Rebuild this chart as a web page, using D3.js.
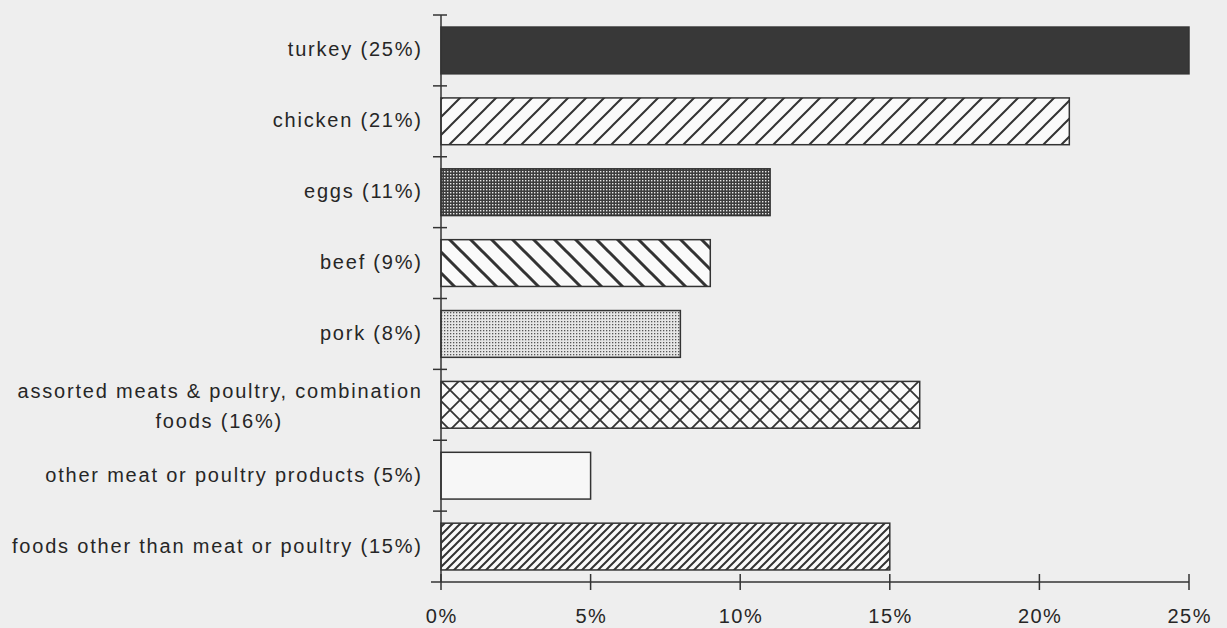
<!DOCTYPE html>
<html><head><meta charset="utf-8">
<script src="https://cdn.jsdelivr.net/npm/d3@7/dist/d3.min.js"></script>
<style>
html,body{margin:0;padding:0;background:#eeeeee;}
svg{display:block;}
text{font-family:"Liberation Sans",Arial,Helvetica,sans-serif;fill:#262626;}
</style></head><body>
<svg id="chart" width="1227" height="628"></svg>
<script>
const categories = ["turkey (25%)", "chicken (21%)", "eggs (11%)", "beef (9%)", "pork (8%)",
  "assorted meats & poultry, combination|foods (16%)", "other meat or poultry products (5%)",
  "foods other than meat or poultry (15%)"];
const values = [25, 21, 11, 9, 8, 16, 5, 15];
const fills = ["solid", "diagUp", "denseDots", "diagDown", "lightDots", "cross", "empty", "denseDiag"];
const xTicks = [0, 5, 10, 15, 20, 25];
const xTickLabels = ["0%", "5%", "10%", "15%", "20%", "25%"];

const svg = d3.select("#chart");
const x0 = 441, x1 = 1189, yTop = 15, yBot = 582;
const x = d3.scaleLinear().domain([0, 25]).range([x0, x1]);
const y = d3.scaleBand().domain(d3.range(categories.length)).range([yTop, yBot]).paddingInner(0.34).paddingOuter(0.17);

const defs = svg.append("defs");
const ink = "#333";
let p = defs.append("pattern").attr("id","diagUp").attr("patternUnits","userSpaceOnUse").attr("width",18).attr("height",18);
p.append("rect").attr("width",18).attr("height",18).attr("fill","#fafafa");
p.append("path").attr("d","M-4.5,4.5 L4.5,-4.5 M0,18 L18,0 M13.5,22.5 L22.5,13.5").attr("stroke",ink).attr("stroke-width",2);
p = defs.append("pattern").attr("id","diagDown").attr("patternUnits","userSpaceOnUse").attr("width",21).attr("height",21);
p.append("rect").attr("width",21).attr("height",21).attr("fill","#fafafa");
p.append("path").attr("d","M-5.25,15.75 L5.25,26.25 M0,0 L21,21 M15.75,-5.25 L26.25,5.25").attr("stroke",ink).attr("stroke-width",3);
p = defs.append("pattern").attr("id","denseDiag").attr("patternUnits","userSpaceOnUse").attr("width",8).attr("height",8);
p.append("rect").attr("width",8).attr("height",8).attr("fill","#fafafa");
p.append("path").attr("d","M-2,2 L2,-2 M0,8 L8,0 M6,10 L10,6").attr("stroke",ink).attr("stroke-width",2);
p = defs.append("pattern").attr("id","cross").attr("patternUnits","userSpaceOnUse").attr("width",20).attr("height",20);
p.append("rect").attr("width",20).attr("height",20).attr("fill","#fafafa");
p.append("path").attr("d","M-5,5 L5,-5 M0,20 L20,0 M15,25 L25,15 M-5,15 L5,25 M0,0 L20,20 M15,-5 L25,5").attr("stroke",ink).attr("stroke-width",1.8);
p = defs.append("pattern").attr("id","denseDots").attr("patternUnits","userSpaceOnUse").attr("width",3).attr("height",3);
p.append("rect").attr("width",3).attr("height",3).attr("fill","#3c3c3c");
p.append("rect").attr("x",0).attr("y",0).attr("width",1.4).attr("height",1.4).attr("fill","#e8e8e8");
p = defs.append("pattern").attr("id","lightDots").attr("patternUnits","userSpaceOnUse").attr("width",3).attr("height",3);
p.append("rect").attr("width",3).attr("height",3).attr("fill","#e6e6e6");
p.append("rect").attr("x",0).attr("y",0).attr("width",1.3).attr("height",1.3).attr("fill","#555");

const fillFor = f => f === "solid" ? "#383838" : f === "empty" ? "#f7f7f7" : `url(#${f})`;

svg.append("g").selectAll("rect").data(values).join("rect")
  .attr("x", x(0)).attr("y", (d,i) => y(i))
  .attr("width", d => x(d) - x(0)).attr("height", y.bandwidth())
  .attr("fill", (d,i) => fillFor(fills[i]))
  .attr("stroke", ink).attr("stroke-width", 1.5);

const ya = svg.append("g").attr("stroke", ink).attr("stroke-width", 1.5);
ya.append("line").attr("x1", x0).attr("x2", x0).attr("y1", yTop).attr("y2", yBot);
const bounds = d3.range(categories.length + 1).map(i => yTop + i * (yBot - yTop) / categories.length);
ya.selectAll("line.t").data(bounds.slice(0, -1)).join("line").attr("class","t")
  .attr("x1", x0 - 8).attr("x2", x0 + 6).attr("y1", d => d).attr("y2", d => d);

const xa = svg.append("g").attr("stroke", ink).attr("stroke-width", 1.5);
xa.append("line").attr("x1", x0 - 10).attr("x2", x1).attr("y1", yBot).attr("y2", yBot);
xa.selectAll("line.t").data(xTicks).join("line").attr("class","t")
  .attr("x1", d => x(d)).attr("x2", d => x(d)).attr("y1", yBot - 8).attr("y2", yBot + 8);
svg.append("g").selectAll("text").data(xTicks).join("text")
  .attr("x", d => x(d) + 0.75).attr("y", 623).attr("text-anchor","middle")
  .style("font-size","20px").style("letter-spacing","1.5px").text((d,i) => xTickLabels[i]);

const LS = 1.8;
const lab = svg.append("g");
categories.forEach((c, i) => {
  const lines = c.split("|");
  const cy = y(i) + y.bandwidth() / 2;
  const mk = (t, yy) => lab.append("text").attr("x", 421 + LS).attr("y", yy).attr("text-anchor","end")
      .style("font-size","20px").style("letter-spacing", LS + "px").text(t);
  if (lines.length === 1) {
    mk(lines[0], cy + 6);
  } else {
    const t1 = mk(lines[0], cy - 7);
    const w = t1.node().getComputedTextLength();
    lab.append("text").attr("x", 421 - w / 2 + LS / 2).attr("y", cy + 23).attr("text-anchor","middle")
      .style("font-size","20px").style("letter-spacing", LS + "px").text(lines[1]);
  }
});
</script>
</body></html>
